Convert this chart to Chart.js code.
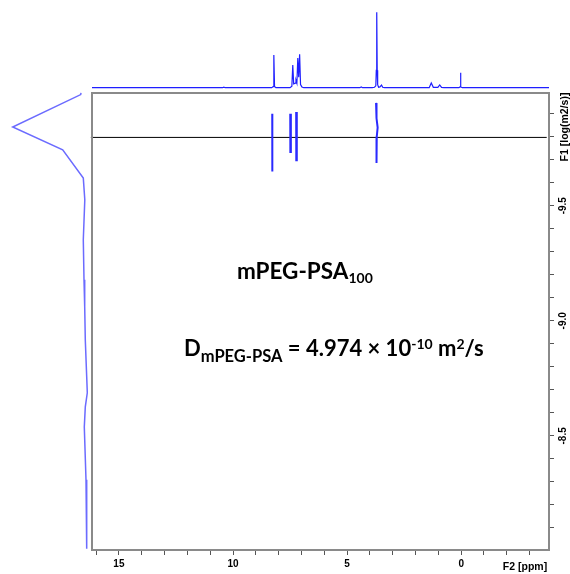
<!DOCTYPE html>
<html><head><meta charset="utf-8">
<script src="https://cdn.jsdelivr.net/npm/chart.js@4.4.1/dist/chart.umd.min.js"></script>
<style>
html,body{margin:0;padding:0;background:#fff;}
#wrap{position:relative;width:570px;height:574px;overflow:hidden;background:#fff;}
canvas{position:absolute;left:0;top:0;}
.ann{position:absolute;font-family:Lato,'Liberation Sans',sans-serif;font-weight:bold;color:#000;white-space:nowrap;line-height:1;}
.ann span{position:relative;}
</style></head><body>
<div id="wrap">
<canvas id="main" width="570" height="574"></canvas>
<canvas id="top" width="570" height="95"></canvas>
<canvas id="left" width="92" height="574"></canvas>
<div class="ann" style="left:237px;top:260px;font-size:22.5px">mPEG-PSA<span style="font-size:14px;top:4px">100</span></div>
<div class="ann" style="left:184px;top:337px;font-size:22px">D<span style="font-size:16.5px;top:6px">mPEG-PSA</span> = 4.974 × 10<span style="font-size:14px;top:-7px">-10</span> m<span style="font-size:14px;top:-7px">2</span>/s</div>
</div>
<script>
// ---- axis ranges ----
const ppmLeft = 16.18, ppmRight = -3.85;
const logDTop = -9.99, logDBottom = -8.004;
const refLogD = -9.797;

// ---- 1D projection on top (F2, ppm vs intensity) ----
const spectrumPpm = [16.18, 10.46, 10.40, 10.34, 8.30, 8.24, 8.21, 8.18, 8.12, 7.50, 7.42, 7.38, 7.34, 7.27, 7.24, 7.20, 7.16, 7.12, 7.08, 7.04, 6.98, 6.90, 4.44, 4.38, 4.32, 3.90, 3.80, 3.74, 3.72, 3.70, 3.68, 3.66, 3.62, 3.56, 3.49, 3.44, 3.36, 1.40, 1.31, 1.22, 1.02, 0.94, 0.86, 0.76, 0.10, 0.05, 0.03, 0.01, -0.05, -3.85];
const spectrumInt = [0, 0, 0.8, 0, 0, 1.5, 43.4, 1.5, 0, 0, 2, 30.1, 5, 6, 10, 6, 39.4, 14, 44.3, 4, 1, 0, 0, 0.9, 0, 0, 0.6, 2.5, 23, 100, 23, 4, 0.5, 1, 3.5, 0.5, 0, 0, 6.2, 0.5, 0.5, 3.6, 0.4, 0, 0, 1, 19.9, 1, 0, 0];

// ---- 1D projection on left (F1, log D vs intensity) ----
const projLogD = [-9.991, -9.983, -9.842, -9.743, -9.620, -9.526, -9.352, -9.178, -9.061, -8.917, -8.757, -8.687, -8.626, -8.539, -8.309, -8.009];
const projInt  = [7, 7.3, 75.3, 25.3, 4.7, 3.2, 4.7, 4, 3.3, 2.7, 1.3, 0.7, 2.7, 3.7, 2, 1.3];

// ---- 2D DOSY cross peaks (ppm, log D) ----
const peak1Ppm = [8.28, 8.28, 8.27, 8.28];
const peak1LogD = [-9.900, -9.800, -9.740, -9.649];
const peak2Ppm = [7.48, 7.47, 7.48];
const peak2LogD = [-9.900, -9.800, -9.729];
const peak3Ppm = [7.22, 7.21, 7.22];
const peak3LogD = [-9.907, -9.800, -9.693];
const peak4Ppm = [3.73, 3.71, 3.66, 3.70, 3.72, 3.70];
const peak4LogD = [-9.947, -9.880, -9.840, -9.800, -9.760, -9.686];

const pts = (xs, ys) => xs.map((x, i) => ({x: x, y: ys[i]}));
const tickFont = {family: "'Liberation Sans', Arial, sans-serif", size: 10, weight: 'bold'};

const frame = {
  id: 'frame',
  afterDraw(chart) {
    const {ctx, chartArea: a} = chart;
    ctx.save();
    ctx.strokeStyle = '#8a8a8a';
    ctx.lineWidth = 2;
    ctx.strokeRect(a.left, a.top, a.right - a.left, a.bottom - a.top);
    ctx.fillStyle = '#000';
    ctx.font = "bold 10.5px 'Liberation Sans', Arial, sans-serif";
    ctx.textAlign = 'center';
    ctx.textBaseline = 'middle';
    ctx.fillText('F2 [ppm]', 525, 567);
    ctx.translate(565.5, 127);
    ctx.rotate(-Math.PI / 2);
    ctx.fillText('F1 [log(m2/s)]', 0, 0);
    ctx.restore();
  }
};

const peakStyle = {showLine: true, borderColor: '#2a2aff', borderWidth: 2, pointRadius: 0, tension: 0};

new Chart(document.getElementById('main'), {
  type: 'scatter',
  data: {datasets: [
    Object.assign({data: pts(peak1Ppm, peak1LogD)}, peakStyle),
    Object.assign({data: pts(peak2Ppm, peak2LogD)}, peakStyle, {borderWidth: 2.5}),
    Object.assign({data: pts(peak3Ppm, peak3LogD)}, peakStyle, {borderWidth: 2.5}),
    Object.assign({data: pts(peak4Ppm, peak4LogD)}, peakStyle),
    {data: [{x: ppmLeft + 0.05, y: refLogD}, {x: ppmRight + 0.1, y: refLogD}], showLine: true, borderColor: '#000', borderWidth: 1, pointRadius: 0, clip: false}
  ]},
  options: {
    responsive: false, animation: false, devicePixelRatio: 1,
    layout: {padding: {left: 92, top: 93, right: 0, bottom: 0}},
    plugins: {legend: {display: false}, tooltip: {enabled: false}},
    scales: {
      x: {
        type: 'linear', position: 'bottom', reverse: true, min: ppmRight, max: ppmLeft,
        afterFit(s) { s.height = 24; },
        border: {display: true, color: '#8a8a8a', width: 2},
        grid: {display: true, drawOnChartArea: false, drawTicks: true, tickLength: 5, tickColor: '#555', tickWidth: 1},
        ticks: {stepSize: 1, includeBounds: false, autoSkip: false, maxRotation: 0, padding: 3, color: '#000', font: tickFont,
          callback: v => (Math.abs(v % 5) < 1e-9 ? String(v) : '')}
      },
      y: {
        type: 'linear', position: 'right', reverse: true, min: logDTop, max: logDBottom,
        afterFit(s) { s.width = 21; },
        border: {display: true, color: '#8a8a8a', width: 2},
        grid: {display: true, drawOnChartArea: false, drawTicks: true, tickLength: 5, tickColor: '#555', tickWidth: 1},
        ticks: {stepSize: 0.1, includeBounds: false, autoSkip: false, minRotation: 90, maxRotation: 90, crossAlign: 'center', padding: 1, color: '#000', font: tickFont,
          callback: v => (Math.abs(v * 2 - Math.round(v * 2)) < 1e-6 ? v.toFixed(1) : '')}
      }
    }
  },
  plugins: [frame]
});

new Chart(document.getElementById('top'), {
  type: 'scatter',
  data: {datasets: [{data: pts(spectrumPpm, spectrumInt), showLine: true, borderColor: '#1f1fff', borderWidth: 1.2, pointRadius: 0, tension: 0, clip: false}]},
  options: {
    responsive: false, animation: false, devicePixelRatio: 1,
    layout: {padding: {left: 92, right: 21, top: 5, bottom: 0}},
    plugins: {legend: {display: false}, tooltip: {enabled: false}},
    scales: {
      x: {type: 'linear', display: false, reverse: true, min: ppmRight, max: ppmLeft},
      y: {type: 'linear', display: false, min: -9.7, max: 109.7}
    }
  }
});

new Chart(document.getElementById('left'), {
  type: 'scatter',
  data: {datasets: [{data: pts(projInt, projLogD), showLine: true, borderColor: '#6b6bff', borderWidth: 1.5, pointRadius: 0, tension: 0, clip: false}]},
  options: {
    responsive: false, animation: false, devicePixelRatio: 1,
    layout: {padding: {left: 0, right: 4, top: 93, bottom: 24}},
    plugins: {legend: {display: false}, tooltip: {enabled: false}},
    scales: {
      x: {type: 'linear', display: false, reverse: true, min: 0, max: 88},
      y: {type: 'linear', display: false, reverse: true, min: logDTop, max: logDBottom}
    }
  }
});
</script>
</body></html>
